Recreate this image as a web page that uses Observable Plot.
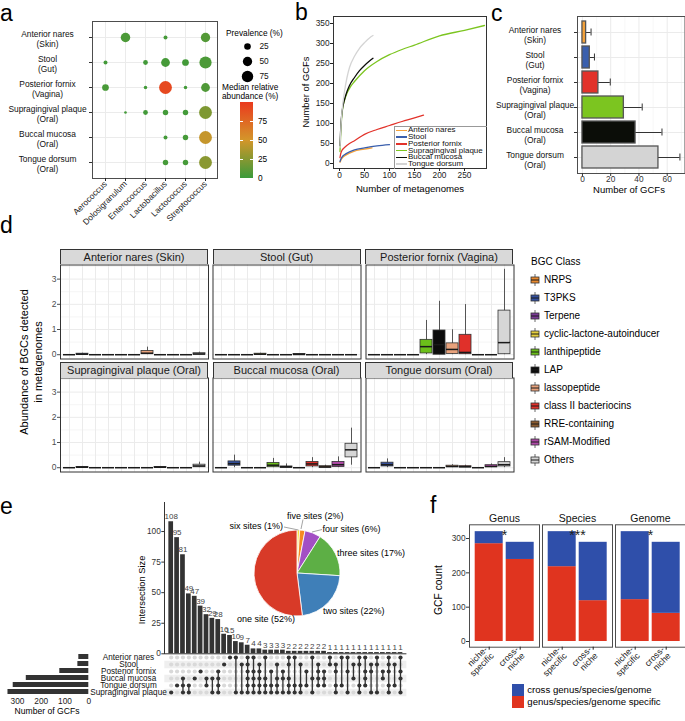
<!DOCTYPE html>
<html><head><meta charset="utf-8">
<script src="https://cdn.jsdelivr.net/npm/d3@7"></script>
<script src="https://cdn.jsdelivr.net/npm/@observablehq/plot@0.6"></script>
<style>
html,body{margin:0;padding:0;background:#fff;}
#root{position:relative;width:685px;height:721px;overflow:hidden;font-family:"Liberation Sans",Arial,sans-serif;color:#000;background:#fff;}
.abs{position:absolute;line-height:0;}
.lbl{position:absolute;white-space:nowrap;line-height:1;}
.letter{position:absolute;font-size:23px;line-height:1.15;font-family:"Liberation Sans",Arial,sans-serif;}
</style></head><body><div id="root"></div>
<script>
// ================= DATA =================
// panel a
const genera = ["Aerococcus","Dolosigranulum","Enterococcus","Lactobacillus","Lactococcus","Streptococcus"];
const siteRows = ["Anterior nares\n(Skin)","Stool\n(Gut)","Posterior fornix\n(Vagina)","Supragingival plaque\n(Oral)","Buccal mucosa\n(Oral)","Tongue dorsum\n(Oral)"];
const prevalenceA = [
  [null,52,null,9,null,50],
  [9,null,13,44,26,85],
  [26,null,7,94,7,44],
  [null,4,13,17,17,94],
  [null,null,null,9,17,94],
  [null,null,null,17,17,94]];
const abundanceA = [
  [null,6,null,4,null,8],
  [3,null,3,4,3,6],
  [5,null,3,92,3,7],
  [null,3,3,3,3,22],
  [null,null,null,3,4,45],
  [null,null,null,4,4,26]];
const prevLegend = [25,50,75];
const abundTicks = [0,25,50,75];
// panel b
const curveSites = ["Anterio nares","Stool","Posterior fornix","Supragingival plaque","Buccal mucosa","Tongue dorsum"];
const curveAN = [[1,3],[3,9],[5,13],[10,19],[20,26],[30,31],[40,34],[50,36],[65,39]];
const curveStool = [[1,5],[3,12],[5,16],[10,22],[20,29],[30,34],[50,39],[75,44],[100,47]];
const curvePF = [[1,15],[3,27],[5,33],[10,40],[20,50],[30,57],[50,73],[75,85],[100,95],[125,105],[150,114],[168,121]];
const curveSupra = [[1,30],[3,90],[6,135],[10,158],[15,176],[22,192],[30,205],[50,232],[75,255],[100,272],[125,285],[150,296],[200,319],[250,333],[290,345]];
const curveBuccal = [[1,45],[3,100],[5,128],[10,160],[15,180],[20,195],[30,215],[40,232],[50,245],[60,256],[67,263]];
const curveTongue = [[1,40],[3,95],[5,130],[10,180],[15,215],[20,240],[30,268],[40,288],[50,302],[60,314],[67,320]];
// panel c
const gcfMean = [2.6,5.2,11.3,29.3,37.6,53.8];
const gcfSd = [3.5,3.3,8.4,13,18.7,15.2];
// panel d
const bgcClasses = ["NRPS","T3PKS","Terpene","cyclic-lactone-autoinducer","lanthipeptide","LAP","lassopeptide","class II bacteriocins","RRE-containing","rSAM-Modified","Others"];
const dTitles = ["Anterior nares (Skin)","Stool (Gut)","Posterior fornix (Vagina)","Supragingival plaque (Oral)","Buccal mucosa (Oral)","Tongue dorsum (Oral)"];
// [q1, median, q3, whisker low, whisker high]
const boxAN = [[0,0,0,0,0],[0,0.02,0.04,0,0.06],[0,0,0,0,0],[0,0,0,0,0],[0,0,0,0,0],[0,0,0,0,0],[0.02,0.06,0.15,0,0.3],[0,0,0,0,0],[0,0,0,0,0],[0,0,0,0,0],[0,0.03,0.06,0,0.1]];
const boxStool = [[0,0,0,0,0],[0,0,0,0,0],[0,0,0,0,0],[0,0.02,0.04,0,0.06],[0,0,0,0,0],[0,0,0,0,0],[0,0.01,0.03,0,0.04],[0,0,0,0,0],[0,0,0,0,0],[0,0,0,0,0],[0,0,0,0,0]];
const boxPF = [[0,0,0,0,0],[0,0,0,0,0],[0,0,0,0,0],[0,0,0,0,0],[0.05,0.32,0.59,0,1.36],[0,0.4,0.96,0,2.12],[0.03,0.21,0.45,0,0.99],[0.02,0.09,0.79,0,1.99],[0,0,0,0,0],[0,0,0,0,0],[0.02,0.48,1.75,0,3.39]];
const boxSupra = [[0,0,0,0,0],[0,0.02,0.03,0,0.05],[0,0,0,0,0],[0,0,0,0,0],[0,0,0,0,0],[0,0,0,0,0],[0,0,0,0,0],[0,0.02,0.03,0,0.05],[0,0,0,0,0],[0,0,0,0,0],[0.02,0.07,0.12,0,0.22]];
const boxBuccal = [[0,0,0,0,0],[0.08,0.16,0.25,0,0.5],[0,0,0,0,0],[0,0,0,0,0],[0.02,0.1,0.19,0,0.37],[0,0.03,0.05,0,0.15],[0,0,0,0,0],[0.05,0.15,0.23,0,0.4],[0,0.03,0.06,0,0.1],[0.03,0.12,0.23,0,0.43],[0.41,0.71,0.95,0.1,1.57]];
const boxTongue = [[0,0,0,0,0],[0.05,0.12,0.2,0,0.35],[0,0,0,0,0],[0,0,0,0,0],[0,0,0,0,0],[0,0,0,0,0],[0.02,0.05,0.08,0,0.12],[0.01,0.04,0.06,0,0.1],[0,0,0,0,0],[0.02,0.05,0.1,0,0.15],[0.05,0.12,0.22,0,0.4]];
// panel e
const setNames = ["Anterior nares","Stool","Posterior fornix","Buccal mucosa","Tongue dorsum","Supragingival plaque"];
const setTotals = [42,46,122,263,318,340];
const upsetSizes = [108,95,81,49,47,39,32,29,28,16,15,10,9,7,4,4,3,3,3,3,2,2,2,2,2,2,2,1,1,1,1,1,1,1,1,1,1,1,1,1];
// membership: indices into setNames
const upsetSets = [[5],[4],[3,4,5],[4,5],[3],[2],[3,4],[3,5],[2,3,4,5],[1],[0],[0,5],[1,5],[0,1,2,3,4,5],[0,2,3,4,5],[1,2,3,4,5],
  [0,3,4,5],[2,4,5],[1,3,4,5],[2,3,5],[0,1,3,4,5],[0,4,5],[1,4,5],[2,4],[0,3,5],[1,2,3,4],[2,3,4],
  [0,1],[1,2,4,5],[0,4],[0,2,5],[1,3],[0,1,4,5],[0,2,3,4],[1,2,5],[0,1,5],[2,3],[0,1,2,4,5],[1,4],[0,2,3,5]];
const pieNames = ["six sites (1%)","five sites (2%)","four sites (6%)","three sites (17%)","two sites (22%)","one site (52%)"];
const pieShares = [1,2,6,17,22,52];
// panel f
const levelsF = ["Genus","Species","Genome"];
const nichesF = ["niche-\nspecific","cross-\nniche"];
const typesF = ["cross genus/species/genome","genus/species/genome specific"];
const specificCounts = [[285,239],[218,119],[122,82]];
const crossCounts = [[35,50],[102,170],[198,207]];
const starsF = ["*","***","*"];

// ================= STYLES =================
const abundColors = ["#3a9a3a","#d4962a","#ea3a1e"];
const siteColors = ["#f4a23a","#3a5fad","#e2322a","#7cc520","#0b0d08","#d4d4d4"];
const bgcColors = ["#e8892e","#34509e","#7b3a96","#e6cf3c","#6bbf1a","#0c0c0c","#e8a27c","#e0302a","#8a5a2e","#b04aa8","#d6d6d6"];
const pieColors = ["#f7e03c","#f58a23","#a34fc4","#5daf45","#3f7fb8","#d83a28"];
const fColors = ["#2f4faa","#e0341f"];
const FONT = '"Liberation Sans", Arial, sans-serif';
const baseStyle = {fontFamily: FONT, fontSize: "8.3px", background: "transparent", overflow: "visible", maxWidth: "none", color: "#333"};

// ================= HELPERS =================
const root = document.getElementById("root");
function put(node, left, top) {
  const d = document.createElement("div");
  d.className = "abs"; d.style.left = left + "px"; d.style.top = top + "px";
  d.appendChild(node); root.appendChild(d); return d;
}
function txt(s, x, y, o = {}) {
  const d = document.createElement("div");
  d.className = "lbl"; d.textContent = s;
  d.style.fontSize = (o.size || 9) + "px";
  d.style.left = x + "px"; d.style.top = y + "px";
  if (o.color) d.style.color = o.color;
  if (s.includes("\n")) { d.style.whiteSpace = "pre"; d.style.lineHeight = o.lh || 1.2; }
  const tx = o.anchor === "middle" ? "-50%" : o.anchor === "end" ? "-100%" : "0";
  d.style.textAlign = o.anchor === "middle" ? "center" : o.anchor === "end" ? "right" : "left";
  d.style.transform = `translate(${tx},-50%)` + (o.rotate ? ` rotate(${o.rotate}deg)` : "");
  root.appendChild(d); return d;
}
function box(left, top, w, h, css) {
  const d = document.createElement("div");
  d.style.position = "absolute"; d.style.left = left + "px"; d.style.top = top + "px";
  d.style.width = w + "px"; d.style.height = h + "px"; d.style.boxSizing = "border-box";
  Object.assign(d.style, css || {});
  root.appendChild(d); return d;
}
function letter(s, x, top) { const d = document.createElement("div"); d.className = "letter"; d.textContent = s; d.style.left = x + "px"; d.style.top = top + "px"; root.appendChild(d); }

// ================= PANEL A =================
const tableA = [];
siteRows.forEach((s, i) => genera.forEach((g, j) => {
  if (prevalenceA[i][j] != null) tableA.push({site: s, genus: g, prev: prevalenceA[i][j], abund: abundanceA[i][j]});
}));
const rScale = {type: "sqrt", domain: [0, 100], range: [0, 6.6]};
put(Plot.plot({
  width: 240, height: 215, marginLeft: 92, marginRight: 23, marginTop: 21, marginBottom: 37,
  style: baseStyle,
  x: {type: "point", domain: genera, padding: 0.6, label: null},
  y: {type: "point", domain: siteRows, padding: 0.57, label: null},
  r: rScale,
  color: {type: "linear", domain: [0, 50, 100], range: abundColors, interpolate: "rgb"},
  marks: [
    Plot.gridX({stroke: "#ebebeb", strokeOpacity: 1}),
    Plot.gridY({stroke: "#ebebeb", strokeOpacity: 1}),
    Plot.frame({stroke: "#4d4d4d"}),
    Plot.dot(tableA, {x: "genus", y: "site", r: "prev", fill: "abund"}),
    Plot.axisX({tickRotate: -45, tickSize: 3, tickPadding: 1, fontSize: 8.4, label: null, color: "#222"}),
    Plot.axisY({tickSize: 3, tickFormat: () => "", label: null, color: "#333"}),
    Plot.text(siteRows, {y: d => d, text: d => d, frameAnchor: "left", dx: -45, dy: 1.5, textAnchor: "middle", fontSize: 8.4, lineHeight: 1.19, fill: "#111"})
  ]
}), 0, 0);
// size legend
txt("Prevalence (%)", 226, 33, {size: 8.3});
put(Plot.plot({
  width: 40, height: 45, marginLeft: 0, marginRight: 0, marginTop: 7.7, marginBottom: 7.3,
  style: baseStyle,
  y: {type: "point", domain: prevLegend, padding: 0, axis: null},
  r: rScale,
  marks: [
    Plot.dot(prevLegend, {y: d => d, r: d => d, fill: "#000", frameAnchor: "left", dx: 7}),
    Plot.text(prevLegend, {y: d => d, text: d => String(d), frameAnchor: "left", dx: 19, textAnchor: "start", fontSize: 8.3, fill: "#111"})
  ]
}), 240, 38);
txt("Median relative\nabundance (%)", 222, 92.5, {size: 8.3, lh: 1.15});
{
  const c = d3.scaleLinear().domain([0, 50, 100]).range(abundColors);
  const stops = d3.range(0, 101, 10).map(v => `${c(v)} ${v}%`).join(",");
  box(240, 102, 13, 76, {background: `linear-gradient(to top, ${stops})`});
  abundTicks.forEach(v => {
    const y = 178 - v * 0.76;
    if (v > 0) { box(240, y - 0.5, 3, 1, {background: "#fff"}); box(250, y - 0.5, 3, 1, {background: "#fff"}); }
    txt(String(v), 258, y, {size: 8.3});
  });
}

// ================= PANEL B =================
const curveList = [curveAN, curveStool, curvePF, curveSupra, curveBuccal, curveTongue];
const tableB = [];
curveList.forEach((pts, k) => pts.forEach(([n, g]) => tableB.push({site: curveSites[k], n, g})));
put(Plot.plot({
  width: 200, height: 200, marginLeft: 38, marginRight: 9, marginTop: 16, marginBottom: 32,
  style: baseStyle,
  x: {domain: [-12, 294], label: null},
  y: {domain: [-12.5, 367.5], label: null},
  color: {domain: curveSites, range: siteColors},
  marks: [
    Plot.line(tableB, {x: "n", y: "g", stroke: "site", curve: "monotone-x", strokeWidth: 1.3}),
    Plot.frame({stroke: "#333"}),
    Plot.axisX({ticks: [0, 50, 100, 150, 200, 250], tickSize: 3, tickPadding: 1, fontSize: 8.3, label: null, color: "#222"}),
    Plot.axisY({ticks: d3.range(0, 351, 50), tickSize: 3, tickPadding: 1, fontSize: 8.3, label: null, color: "#222"})
  ]
}), 295, 0);
txt("Number of GCFs", 306, 92, {size: 9.4, anchor: "middle", rotate: -90});
txt("Number of metagenomes", 410, 189, {size: 9.6, anchor: "middle"});
box(394, 126, 92.5, 42.5, {borderTop: "1px solid #999", borderLeft: "1px solid #999"});
curveSites.forEach((s, k) => {
  const y = 130.3 + k * 6.75;
  box(396, y - 0.7, 11, 1.5, {background: siteColors[k]});
  txt(s, 408, y, {size: 8, color: "#111"});
});

// ================= PANEL C =================
const tableC = siteRows.map((s, i) => ({site: s, mean: gcfMean[i], sd: gcfSd[i]}));
put(Plot.plot({
  width: 245, height: 200, marginLeft: 137, marginRight: 0.5, marginTop: 16, marginBottom: 27,
  style: baseStyle,
  x: {domain: [-3.5, 72.6], label: null},
  y: {type: "band", domain: siteRows, paddingInner: 0.12, paddingOuter: 0.15, label: null},
  color: {domain: siteRows, range: siteColors},
  marks: [
    Plot.gridX({ticks: [10, 30, 50, 70], stroke: "#f2f2f2", strokeOpacity: 1, strokeWidth: 0.6}),
    Plot.gridX({ticks: [0, 20, 40, 60], stroke: "#ebebeb", strokeOpacity: 1}),
    Plot.gridY({stroke: "#ebebeb", strokeOpacity: 1}),
    Plot.ruleY(tableC, {y: "site", x1: "mean", x2: d => d.mean + d.sd, stroke: "#333", strokeWidth: 1}),
    Plot.tickX(tableC, {y: "site", x: d => d.mean + d.sd, insetTop: 7.5, insetBottom: 7.5, stroke: "#333", strokeWidth: 1}),
    Plot.barX(tableC, {y: "site", x1: 0, x2: "mean", fill: "site", stroke: "#555", strokeWidth: 1.3}),
    Plot.frame({stroke: "#4d4d4d"}),
    Plot.axisX({ticks: [0, 20, 40, 60], tickSize: 3, tickPadding: 0, fontSize: 8.3, label: null, color: "#333"}),
    Plot.axisY({tickSize: 3, tickFormat: () => "", label: null, color: "#333"}),
    Plot.text(siteRows, {y: d => d, text: d => d, frameAnchor: "left", dx: -42.5, dy: 2, textAnchor: "middle", fontSize: 8.4, lineHeight: 1.19, fill: "#111"})
  ]
}), 440, 0);
txt("Number of GCFs", 629, 190, {size: 9.5, anchor: "middle"});

// ================= PANEL D =================
const boxStats = [boxAN, boxStool, boxPF, boxSupra, boxBuccal, boxTongue];
const colX = [60, 212.5, 365], rowY = [264, 377.5];
boxStats.forEach((stats, k) => {
  const col = k % 3, row = Math.floor(k / 3), showY = col === 0;
  const rows = stats.map((s, i) => ({cls: bgcClasses[i], q1: s[0], med: s[1], q3: s[2], lo: s[3], hi: s[4]}));
  const ml = showY ? 20 : 0.5;
  const marks = [
    Plot.gridY({ticks: [0.5, 1.5, 2.5, 3.5], stroke: "#f0f0f0", strokeOpacity: 1, strokeWidth: 0.6}),
    Plot.gridY({ticks: [0, 1, 2, 3], stroke: "#ebebeb", strokeOpacity: 1, strokeWidth: 1}),
    Plot.gridX({stroke: "#ebebeb", strokeOpacity: 1}),
    Plot.ruleX(rows, {x: "cls", y1: "lo", y2: "hi", stroke: "#444", strokeWidth: 0.9}),
    Plot.barY(rows, {x: "cls", y1: "q1", y2: "q3", fill: "cls", stroke: "#333", strokeWidth: 0.8}),
    Plot.tickY(rows, {x: "cls", y: "med", stroke: "#1a1a1a", strokeWidth: 1.5}),
    Plot.frame({stroke: "#333"})
  ];
  if (showY) marks.push(Plot.axisY({ticks: [0, 1, 2, 3], tickFormat: d => String(d), tickSize: 3, tickPadding: 1, fontSize: 8.5, label: null, color: "#4d4d4d"}));
  put(Plot.plot({
    width: 148 + ml + 0.5, height: 95, marginLeft: ml, marginRight: 0.5, marginTop: 0.5, marginBottom: 0.5,
    style: baseStyle,
    x: {type: "band", domain: bgcClasses, paddingInner: 0.05, paddingOuter: 0.025, axis: null},
    y: showY ? {domain: [-0.17, 3.56], label: null} : {domain: [-0.17, 3.56], axis: null},
    color: {domain: bgcClasses, range: bgcColors},
    marks
  }), colX[col] - ml, rowY[row] - 0.5);
  box(colX[col], rowY[row] - 15.5, 148, 15.5, {background: "#d9d9d9", border: "1px solid #333", borderBottom: "none"});
  txt(dTitles[k], colX[col] + 74, rowY[row] - 7.5, {size: 11, anchor: "middle", color: "#1a1a1a"});
});
txt("Abundance of BGCs detected\nin metagenomes", 32, 362, {size: 11, anchor: "middle", rotate: -90, lh: 1.27});
txt("BGC Class", 531, 262, {size: 10});
bgcClasses.forEach((c, i) => {
  const y = 280 + i * 18;
  const ns = "http://www.w3.org/2000/svg";
  const s = document.createElementNS(ns, "svg");
  s.setAttribute("width", 10); s.setAttribute("height", 12);
  s.innerHTML = `<line x1="5" x2="5" y1="0" y2="12" stroke="#444" stroke-width="0.8"/><rect x="1" y="3" width="8" height="6" fill="${bgcColors[i]}" stroke="#333" stroke-width="0.8"/><line x1="1" x2="9" y1="6" y2="6" stroke="#1a1a1a" stroke-width="1"/>`;
  put(s, 530, y - 6);
  txt(c, 544, y, {size: 10});
});

// ================= PANEL E =================
// intersection bars
const xBand = {type: "band", domain: d3.range(upsetSizes.length), paddingInner: 0.2, paddingOuter: 0.69, axis: null};
put(Plot.plot({
  width: 285, height: 170, marginLeft: 34.3, marginRight: 8.6, marginTop: 11.7, marginBottom: 6.7,
  style: baseStyle,
  x: xBand,
  y: {domain: [0, 124], label: null},
  marks: [
    Plot.barY(upsetSizes, {x: (d, i) => i, y: d => d, fill: "#333"}),
    Plot.ruleY([0], {stroke: "#333"}),
    Plot.text(upsetSizes, {x: (d, i) => i, y: d => d, text: d => String(d), dy: -5, fontSize: 8, fill: "#444"}),
    Plot.axisY({ticks: [0, 25, 50, 75, 100], tickSize: 3, tickPadding: 1, fontSize: 8.3, label: null, color: "#333"})
  ]
}), 130, 490);
box(163.8, 501.7, 1, 152, {background: "#333"});
txt("Intersection Size", 143, 590, {size: 9.3, anchor: "middle", rotate: -90});
// matrix
const cells = [];
upsetSets.forEach((s, i) => setNames.forEach((name, j) => cells.push({i, set: name, on: s.includes(j)})));
const links = upsetSets.map((s, i) => ({i, y1: setNames[Math.min(...s)], y2: setNames[Math.max(...s)], multi: s.length > 1})).filter(d => d.multi);
put(Plot.plot({
  width: 320, height: 52, marginLeft: 69.3, marginRight: 8.6, marginTop: 7, marginBottom: 7,
  style: baseStyle,
  x: xBand,
  y: {type: "point", domain: setNames, padding: 0, axis: null},
  marks: [
    Plot.ruleY([setNames[1], setNames[3], setNames[5]], {y: d => d, stroke: "#efefef", strokeWidth: 7.6}),
    Plot.dot(cells.filter(c => !c.on), {x: "i", y: "set", r: 2.1, fill: "#d9d9d9"}),
    Plot.ruleX(links, {x: "i", y1: "y1", y2: "y2", stroke: "#333", strokeWidth: 1.3}),
    Plot.dot(cells.filter(c => c.on), {x: "i", y: "set", r: 2.1, fill: "#333"}),
    Plot.text(setNames, {y: d => d, text: d => d, frameAnchor: "left", dx: -36.3, textAnchor: "middle", fontSize: 8.2, fill: "#111"})
  ]
}), 95, 648);
// set sizes
put(Plot.plot({
  width: 95, height: 60, marginLeft: 0.35, marginRight: 6.7, marginTop: 3.2, marginBottom: 11.2,
  style: baseStyle,
  x: {domain: [0, 370], reverse: true, label: null},
  y: {type: "band", domain: setNames, paddingInner: 0.27, paddingOuter: 0.135, axis: null},
  marks: [
    Plot.barX(setTotals.map((v, j) => ({set: setNames[j], v})), {y: "set", x: "v", fill: "#333"}),
    Plot.axisX({ticks: [0, 100, 200, 300], tickSize: 0, tickPadding: 1, fontSize: 8.3, label: null, color: "#222"})
  ]
}), 0, 648);
txt("Number of GCFs", 47, 711, {size: 8.6, anchor: "middle"});
// pie
function pieMark() {
  const g = d3.create("svg:g").attr("transform", "translate(50,50)");
  const arcs = d3.pie().sort(null).value(d => d)(pieShares);
  const arc = d3.arc().innerRadius(0).outerRadius(43);
  g.selectAll("path").data(arcs).join("path").attr("d", arc).attr("fill", (d, i) => pieColors[i]).attr("stroke", "#fff").attr("stroke-width", 0.8);
  return g.node();
}
put(Plot.plot({width: 100, height: 100, margin: 0, style: baseStyle, marks: [pieMark]}), 247.3, 522.7);
{
  const ns = "http://www.w3.org/2000/svg";
  const s = document.createElementNS(ns, "svg");
  s.setAttribute("width", 685); s.setAttribute("height", 721);
  s.innerHTML = `<g stroke="#666" stroke-width="0.6"><line x1="284" y1="527" x2="298.5" y2="530"/><line x1="301" y1="529" x2="303" y2="519.5"/><line x1="312" y1="532" x2="322" y2="529.5"/></g>`;
  put(s, 0, 0);
}
txt(pieNames[0], 283, 525.7, {size: 9, anchor: "end"});
txt(pieNames[1], 287, 515.7, {size: 9});
txt(pieNames[2], 322.5, 529, {size: 9});
txt(pieNames[3], 337, 552.7, {size: 9});
txt(pieNames[4], 323, 611, {size: 9});
txt(pieNames[5], 237, 619, {size: 9});

// ================= PANEL F =================
const tableF = [];
levelsF.forEach((lv, k) => nichesF.forEach((n, j) => {
  tableF.push({level: lv, niche: n, type: typesF[1], count: specificCounts[k][j]});
  tableF.push({level: lv, niche: n, type: typesF[0], count: crossCounts[k][j]});
}));
put(Plot.plot({
  width: 255, height: 180, marginLeft: 38.3, marginRight: 0.5, marginTop: 19.3, marginBottom: 38.3,
  style: baseStyle,
  fx: {domain: levelsF, paddingInner: 0.046, paddingOuter: 0, label: null},
  x: {domain: nichesF, paddingInner: 0.1, paddingOuter: 0.15, label: null},
  y: {domain: [-16.6, 340], label: null},
  color: {domain: typesF, range: fColors},
  marks: [
    Plot.barY(tableF, {fx: "level", x: "niche", y: "count", fill: "type"}),
    Plot.frame({stroke: "#4d4d4d"}),
    Plot.text(levelsF.map((lv, k) => ({level: lv, s: starsF[k]})), {fx: "level", text: "s", frameAnchor: "top", dy: 5, fontSize: 14, fill: "#222"}),
    Plot.axisFx({anchor: "top", tickSize: 0, tickPadding: 3, fontSize: 10.5, label: null, color: "#111"}),
    Plot.axisX({tickRotate: -45, tickSize: 3, tickPadding: 1, fontSize: 8.8, label: null, color: "#222", lineHeight: 1}),
    Plot.axisY({ticks: [0, 100, 200, 300], tickSize: 3, tickPadding: 1, fontSize: 8.3, label: null, color: "#333"})
  ]
}), 430, 505);
txt("GCF count", 439, 590, {size: 10.3, anchor: "middle", rotate: -90});
box(511.7, 684, 12, 11.5, {background: fColors[0]});
box(511.7, 696, 12, 11.5, {background: fColors[1]});
txt(typesF[0], 527.3, 689.5, {size: 9.6});
txt(typesF[1], 527.3, 701.7, {size: 9.6});

// ================= LETTERS =================
letter("a", 0, 0);
letter("b", 295, -1);
letter("c", 491, 0);
letter("d", 0, 212);
letter("e", 0, 493);
letter("f", 430, 492);
</script></body></html>
